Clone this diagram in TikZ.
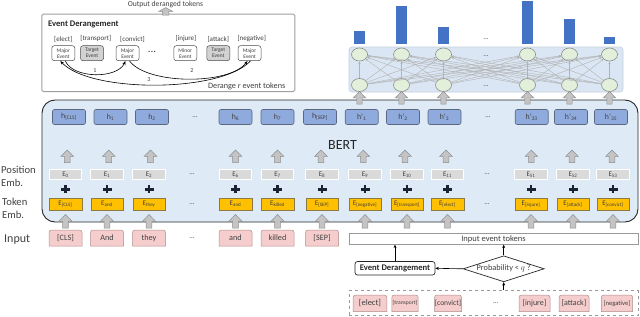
\documentclass[tikz,border=0pt]{standalone}
\usepackage{fontspec}
\setmainfont{Carlito}
\usetikzlibrary{shapes.geometric,arrows.meta}
\definecolor{bertfill}{HTML}{DEEBF7}
\definecolor{bertdraw}{HTML}{262626}
\definecolor{hfill}{HTML}{8FAADC}
\definecolor{hdraw}{HTML}{5B677F}
\definecolor{posfill}{HTML}{DADADA}
\definecolor{tokfill}{HTML}{FFC000}
\definecolor{tokdraw}{HTML}{8C7A46}
\definecolor{pinkfill}{HTML}{F6CDCD}
\definecolor{pinkdraw}{HTML}{B08C8C}
\definecolor{barblue}{HTML}{4472C4}
\definecolor{neufill}{HTML}{E2EFDA}
\definecolor{neudraw}{HTML}{8C8C8C}
\definecolor{netfill}{HTML}{DAE6F3}
\definecolor{netdraw}{HTML}{C4D0DC}
\definecolor{arrfill}{HTML}{C4C4C4}
\definecolor{arrdraw}{HTML}{8E8E8E}
\definecolor{txtgray}{HTML}{404040}
\definecolor{plusc}{HTML}{1B2233}
\newcommand\BlockUp[4]{%
  \draw[arrdraw, fill=arrfill, line width=0.5pt, line join=miter]
    ({#1-0.45*#4},#2) -- ({#1-0.45*#4},{#3+0.5*(#2-#3)}) -- ({#1-#4},{#3+0.5*(#2-#3)})
    -- ({#1},#3) -- ({#1+#4},{#3+0.5*(#2-#3)}) -- ({#1+0.45*#4},{#3+0.5*(#2-#3)})
    -- ({#1+0.45*#4},#2) -- cycle;}
\newcommand\PinkTok[7]{%
  \draw[pinkdraw, fill=pinkfill, line width=0.5pt]
    ({#2-#4},{#3+#5}) -- ({#2-#4},{#3-#5+2.5}) arc[start angle=180,end angle=270,radius=2.5]
    -- ({#2+#4-2.5},{#3-#5}) arc[start angle=270,end angle=360,radius=2.5]
    -- ({#2+#4},{#3+#5}) -- cycle;
  \node[inner sep=0pt, text=txtgray, font=\fontsize{#6}{#6}\selectfont] (#1) at (#2,#3) {#7};}
\newcommand\PlusSign[2]{%
  \draw[plusc, line width=2.4pt] ({#1-4.5},#2) -- ({#1+4.5},#2) ({#1},{#2-4}) -- ({#1},{#2+4});}
\tikzset{
  hbox/.style={draw=hdraw, fill=hfill, rounded corners=2pt, minimum width=33pt, minimum height=15pt,
    inner sep=0pt, line width=0.6pt, font=\fontsize{7.8}{8}\selectfont, text=txtgray},
  posbox/.style={draw=white, fill=posfill, minimum width=32.5pt, minimum height=10.5pt,
    inner sep=0pt, line width=0.6pt, font=\fontsize{7}{7}\selectfont, text=txtgray},
  tokbox/.style={draw=tokdraw, fill=tokfill, minimum width=32.5pt, minimum height=12pt,
    inner sep=0pt, line width=0.5pt, font=\fontsize{7}{7}\selectfont, text=txtgray},
  dots/.style={font=\fontsize{7}{7}\selectfont, text=txtgray, inner sep=0pt},
  neuron/.style={ellipse, draw=neudraw, fill=neufill, minimum width=16pt, minimum height=13pt,
    inner sep=0pt, line width=0.6pt},
  netline/.style={gray!60, line width=0.4pt, -{Stealth[length=2.5pt,width=2pt]}},
  evnode/.style={draw=gray!60!black, fill=white, rounded corners=2.5pt, minimum width=23pt,
    minimum height=15pt, inner sep=0pt, align=center, font=\fontsize{5.5}{6}\selectfont,
    text=txtgray, line width=0.5pt},
  tgnode/.style={evnode, fill=gray!35},
  evlab/.style={font=\fontsize{7}{7}\selectfont, text=txtgray, inner sep=0pt},
  evarrow/.style={black, line width=0.6pt, -{Stealth[length=4pt,width=3pt]}},
  conn/.style={black, line width=0.6pt, -{Stealth[length=3.5pt,width=3pt]}},
  sidelab/.style={anchor=west, align=left, inner sep=0pt, text=txtgray}
}
\begin{document}
\begin{tikzpicture}[x=1pt,y=-1pt]
\useasboundingbox (0,0) rectangle (640,316);

% ---------------- output network (top right)
\node[draw=netdraw, fill=netfill, rounded corners=3pt, minimum width=274pt, minimum height=45pt,
  inner sep=0pt, line width=0.6pt] (net) at (486,69.5) {};
\foreach \x/\t in {359.5/30.7, 401.5/5.7, 443.5/26.7, 527.5/1, 569.5/19.3, 609.5/36.7}
  {\fill[barblue] ({\x-5.5},\t) rectangle ({\x+5.5},44);}
\foreach \i/\x in {1/359.5, 2/401.5, 3/443.5, 4/527.5, 5/569.5, 6/609.5} {
  \node[neuron] (t\i) at (\x,54.5) {};
  \node[neuron] (b\i) at (\x,85) {};
}
\foreach \i in {1,...,6} {\foreach \j in {1,...,6} {\draw[netline] (b\i) -- (t\j);}}
\node[dots] (ndots1) at (486,39) {...};
\node[dots] (ndots2) at (486,56) {...};
\node[dots] (ndots3) at (486,86) {...};

% ---------------- event derangement box (top left)
\node[draw=gray!75, fill=white, rounded corners=1.5pt, line width=0.9pt, minimum width=253pt,
  minimum height=77.5pt, inner sep=0pt] (edbox) at (168.3,52.8) {};
\node[anchor=west, inner sep=0pt, font=\bfseries\fontsize{8.6}{9}\selectfont, text=black!85] (edtitle) at (48,24) {Event Derangement};
\node[inner sep=0pt, font=\fontsize{7.6}{8}\selectfont, text=txtgray] (outlab) at (165.5,4.2) {Output deranged tokens};
\BlockUp{165.7}{15}{7.6}{6.8}

\node[evnode] (n1) at (63.3,53.2) {Major\\Event};
\node[tgnode] (n2) at (92,53.2) {Target\\Event};
\node[evnode] (n3) at (127.5,53.2) {Major\\Event};
\node[evnode] (n4) at (185.3,53.2) {Minor\\Event};
\node[tgnode] (n5) at (218.3,53.2) {Target\\Event};
\node[evnode] (n6) at (249.5,53.2) {Major\\Event};
\node[evlab] (l1) at (63.3,39) {[elect]};
\node[evlab] (l2) at (95.8,39) {[transport]};
\node[evlab] (l3) at (132.5,39) {[convict]};
\node[evlab] (l4) at (186,39) {[injure]};
\node[evlab] (l5) at (218.3,39) {[attack]};
\node[evlab] (l6) at (251.7,39) {[negative]};
\node[font=\fontsize{11}{11}\selectfont, inner sep=0pt, text=txtgray] (edots) at (152,52) {...};

\draw[evarrow] ([xshift=2pt]n1.south) .. controls +(8,18) and +(-8,18) .. ([xshift=-2pt]n3.south);
\draw[evarrow] ([xshift=2pt]n3.south) .. controls +(18,24) and +(-18,24) .. ([xshift=-2pt]n6.south);
\draw[evarrow] ([xshift=1pt]n6.south) .. controls +(-30,32) and +(30,32) .. ([xshift=-3pt]n1.south);
\node[evlab, font=\fontsize{6}{6}\selectfont] (c1) at (95,70.5) {1};
\node[evlab, font=\fontsize{6}{6}\selectfont] (c2) at (192,70.5) {2};
\node[evlab, font=\fontsize{6}{6}\selectfont] (c3) at (149,79.5) {3};
\node[inner sep=0pt, font=\fontsize{8.2}{9}\selectfont, text=txtgray] (derlab) at (246.7,86) {Derange \textit{r} event tokens};

% ---------------- BERT box
\node[draw=bertdraw, fill=bertfill, rounded corners=13pt, line width=0.9pt, minimum width=596pt,
  minimum height=122pt, inner sep=0pt] (bert) at (340,161) {};
\node[inner sep=0pt, font=\fontsize{14}{14}\selectfont, text=black!85] (bertlab) at (342.5,145) {BERT};

% h row
\foreach \n/\x/\t in {1/69/{h\textsubscript{[CLS]}}, 2/110.5/{h\textsubscript{1}}, 3/152/{h\textsubscript{2}},
  4/235.5/{h\textsubscript{6}}, 5/277.5/{h\textsubscript{7}}, 6/320/{h\textsubscript{[SEP]}},
  7/361.7/{h’\textsubscript{1}}, 8/403/{h’\textsubscript{2}}, 9/444.5/{h’\textsubscript{3}},
  10/531.7/{h’\textsubscript{33}}, 11/571/{h’\textsubscript{34}}, 12/611/{h’\textsubscript{35}}}
  {\node[hbox] (h\n) at (\x,117) {\t};}
\node[dots] (hdots1) at (195,117) {...};
\node[dots] (hdots2) at (488,117) {...};

% position embeddings
\foreach \n/\x/\t in {1/65.5/0, 2/107/1, 3/149/2, 4/235.5/6, 5/277.5/7, 6/322/8, 7/365/9,
  8/407/10, 9/447.5/11, 10/531/51, 11/573/52, 12/613/53}
  {\node[posbox] (p\n) at (\x,174.5) {E\textsubscript{\t}};}
\node[dots] (pdots1) at (192,174.5) {...};
\node[dots] (pdots2) at (487,174.5) {...};

% token embeddings
\foreach \n/\x/\t in {1/65.5/{[CLS]}, 2/107/and, 3/149/they, 4/235.5/and, 5/277.5/killed, 6/322/{[SEP]},
  7/365/{[negative]}, 8/407/{[transport]}, 9/447.5/{[elect]}, 10/531/{[injure]}, 11/573/{[attack]},
  12/613/{[convict]}}
  {\node[tokbox] (e\n) at (\x,204) {E\textsubscript{\t}};}
\node[dots] (edots1) at (192,204) {...};
\node[dots] (edots2) at (487,204) {...};

% plus signs and arrows inside BERT
\foreach \a/\h in {65.5/69, 107/110.5, 149/152, 235.5/235.5, 277.5/277.5, 322/320, 365/361.7,
  407/403, 447.5/444.5, 531/531.7, 573/571, 613/611} {
  \pgfmathsetmacro\mx{(\a+\h)/2}
  \PlusSign{\a}{189.3}
  \BlockUp{\mx}{162.5}{150}{6.2}
  \BlockUp{\a}{228}{214.5}{6.5}
}
% arrows from h' to network
\foreach \x in {359.5, 401.5, 443.5, 527.5, 569.5, 609.5}
  {\BlockUp{\x}{104}{91.5}{6}}

% side labels
\node[sidelab, font=\fontsize{10.6}{13.8}\selectfont] (poslab) at (1,176.3) {Position\\Emb.};
\node[sidelab, font=\fontsize{10.6}{13}\selectfont] (toklab) at (2,208.7) {Token\\Emb.};
\node[sidelab, font=\fontsize{12}{12}\selectfont] (inlab) at (4,240) {Input};

% input tokens
\PinkTok{i1}{65.5}{238}{16.5}{8}{8.2}{[CLS]}
\PinkTok{i2}{107}{238}{16.5}{8}{8.2}{And}
\PinkTok{i3}{149}{238}{16.5}{8}{8.2}{they}
\PinkTok{i4}{235.5}{238}{16.5}{8}{8.2}{and}
\PinkTok{i5}{277.5}{238}{16.5}{8}{8.2}{killed}
\PinkTok{i6}{322}{238}{16.5}{8}{8.2}{[SEP]}
\node[dots] (idots) at (192,238) {...};

% ---------------- bottom right: input event tokens & derangement
\node[draw=gray!80, fill=white, line width=0.6pt, minimum width=289pt, minimum height=11pt,
  inner sep=0pt, font=\fontsize{8.5}{9}\selectfont, text=txtgray] (iet) at (493.5,238.8) {Input event tokens};
\node[draw=black!85, fill=white, rounded corners=2.5pt, line width=0.7pt, minimum width=80pt,
  minimum height=13.5pt, inner sep=0pt, font=\bfseries\fontsize{8.6}{9}\selectfont, text=black!85] (ed2) at (395,268.3) {Event Derangement};
\node[diamond, draw=black!85, fill=white, line width=0.7pt, minimum width=81pt, minimum height=26pt,
  inner sep=0pt] (prob) at (503.7,268.8) {};
\node[inner sep=0pt, font=\fontsize{8.3}{9}\selectfont, text=txtgray] (probtxt) at (prob.center) {Probability < $q$ ?};
\node[draw=gray!80, dashed, line width=0.6pt, minimum width=289pt, minimum height=25pt,
  inner sep=0pt] (evbox) at (493.5,303) {};
\PinkTok{v1}{370}{303.3}{16.8}{8.3}{8.5}{[elect]}
\PinkTok{v2}{405}{303.3}{13.2}{8.3}{5.6}{[transport]}
\PinkTok{v3}{448}{303.3}{13.5}{8.3}{7.5}{[convict]}
\PinkTok{v4}{534.5}{303.3}{15.5}{8.3}{8}{[injure]}
\PinkTok{v5}{574}{303.3}{15}{8.3}{8}{[attack]}
\PinkTok{v6}{617}{303.3}{15.7}{8.3}{6.6}{[negative]}
\node[dots] (vdots) at (495.7,303) {...};

\draw[conn] (prob.south |- evbox.north) -- (prob.south);
\draw[conn] (prob.west) -- (ed2.east);
\draw[conn] (prob.north) -- (prob.north |- iet.south);
\draw[conn] (ed2.north) -- (ed2.north |- iet.south);
\end{tikzpicture}
\end{document}
